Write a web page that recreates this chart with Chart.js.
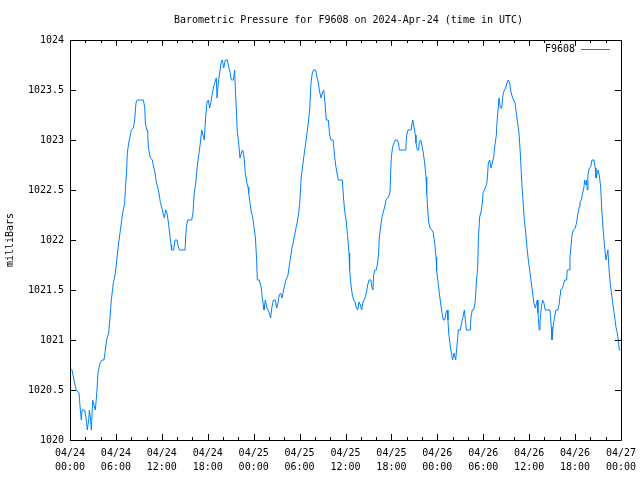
<!DOCTYPE html>
<html>
<head>
<meta charset="utf-8">
<script src="https://cdn.jsdelivr.net/npm/chart.js@4.4.1/dist/chart.umd.min.js"></script>
<style>
  html, body { margin: 0; padding: 0; background: #fff; }
  canvas { display: block; }
</style>
</head>
<body>
<canvas id="chart" width="640" height="480"></canvas>
<script>
// hours since 2024-04-24 00:00 UTC
const hours = [
  0.00, 0.26, 0.52, 0.83, 1.18, 1.35, 1.48, 1.58, 1.92, 2.13, 2.26, 2.44, 2.53, 2.70, 2.79, 2.96,
  3.14, 3.31, 3.48, 3.66, 3.92, 4.18, 4.44, 4.62, 4.79, 5.05, 5.23, 5.40, 5.66, 5.84, 6.05, 6.18,
  6.36, 6.53, 6.71, 6.88, 7.14, 7.23, 7.40, 7.49, 7.67, 7.84, 8.01, 8.27, 8.45, 8.62, 8.79, 9.58,
  9.76, 9.84, 10.02, 10.15, 10.23, 10.50, 10.76, 10.93, 11.11, 11.28, 11.46, 11.63, 11.80, 11.98,
  12.15, 12.33, 12.50, 12.67, 12.85, 13.02, 13.20, 13.28, 13.55, 13.72, 13.98, 14.16, 14.33, 15.03,
  15.20, 15.38, 15.90, 16.07, 16.24, 16.42, 16.55, 16.68, 16.86, 17.03, 17.21, 17.38, 17.55, 17.73,
  17.90, 18.08, 18.25, 18.42, 18.60, 18.77, 18.95, 19.12, 19.21, 19.38, 19.56, 19.73, 19.90, 20.08,
  20.30, 20.56, 20.73, 20.91, 21.08, 21.34, 21.52, 21.60, 21.78, 21.86, 22.04, 22.21, 22.38, 22.56,
  22.74, 22.91, 23.08, 23.26, 23.35, 23.52, 23.69, 23.87, 24.04, 24.22, 24.39, 24.48, 24.74, 24.83,
  25.00, 25.09, 25.26, 25.35, 25.52, 25.70, 25.87, 26.04, 26.22, 26.39, 26.57, 26.83, 27.01, 27.18,
  27.35, 27.53, 27.70, 27.87, 28.05, 28.22, 28.49, 28.66, 28.83, 29.01, 29.18, 29.36, 29.53, 29.70,
  29.88, 30.05, 30.22, 30.45, 30.62, 30.80, 30.97, 31.14, 31.32, 31.49, 31.66, 31.84, 32.10, 32.27,
  32.45, 32.62, 32.80, 32.97, 33.15, 33.32, 33.49, 33.75, 33.93, 34.10, 34.37, 34.54, 34.71, 34.89,
  35.06, 35.58, 35.76, 35.93, 36.11, 36.28, 36.46, 36.54, 36.72, 36.89, 37.07, 37.24, 37.41, 37.59,
  37.76, 37.94, 38.11, 38.29, 38.55, 38.72, 38.90, 39.07, 39.33, 39.42, 39.59, 39.68, 39.85, 40.03,
  40.20, 40.33, 40.42, 40.59, 40.77, 40.94, 41.12, 41.29, 41.64, 41.81, 41.90, 41.99, 42.16, 42.34,
  42.51, 42.77, 42.95, 43.03, 43.82, 43.90, 43.99, 44.17, 44.60, 44.69, 44.78, 44.95, 45.13, 45.21,
  45.39, 45.56, 45.65, 45.82, 46.00, 46.17, 46.34, 46.52, 46.61, 46.78, 46.87, 47.04, 47.30, 47.48,
  47.65, 47.83, 47.91, 48.09, 48.26, 48.43, 48.61, 48.78, 48.96, 49.13, 49.30, 49.39, 49.48, 49.65,
  49.83, 50.00, 50.18, 50.40, 50.48, 50.66, 50.74, 51.00, 51.18, 51.35, 51.53, 51.70, 51.79, 52.31,
  52.40, 52.57, 52.75, 52.92, 53.01, 53.09, 53.27, 53.36, 53.53, 53.71, 53.88, 53.97, 54.14, 54.32,
  54.49, 54.58, 54.66, 54.84, 55.01, 55.19, 55.36, 55.53, 55.71, 55.80, 55.97, 56.06, 56.23, 56.41,
  56.58, 56.75, 56.93, 57.10, 57.27, 57.45, 57.62, 57.80, 57.97, 58.15, 58.32, 58.49, 58.67, 58.84,
  59.02, 59.19, 59.37, 59.54, 59.71, 59.89, 60.06, 60.28, 60.45, 60.62, 60.80, 60.97, 61.06, 61.15,
  61.32, 61.41, 61.58, 61.76, 61.93, 62.10, 62.72, 62.89, 62.98, 63.07, 63.15, 63.33, 63.50, 63.76,
  63.94, 64.03, 64.11, 64.37, 64.46, 64.64, 64.90, 64.98, 65.25, 65.33, 65.51, 65.60, 65.77, 66.03,
  66.21, 66.38, 66.55, 66.64, 66.81, 66.99, 67.16, 67.25, 67.42, 67.51, 67.60, 67.68, 67.86, 68.04,
  68.21, 68.47, 68.64, 68.73, 68.90, 68.99, 69.16, 69.34, 69.51, 69.69, 69.86, 70.03, 70.12, 70.29,
  70.47, 70.65, 70.82, 70.99, 71.17, 71.34, 71.52, 71.69, 71.78, 71.95
];

// milliBars
const pressure = [
  1020.72, 1020.70, 1020.60, 1020.50, 1020.47, 1020.30, 1020.20, 1020.30, 1020.30, 1020.20, 1020.10, 1020.20, 1020.30, 1020.20, 1020.10, 1020.40,
  1020.35, 1020.30, 1020.45, 1020.67, 1020.77, 1020.80, 1020.80, 1020.90, 1021.00, 1021.07, 1021.23, 1021.40, 1021.57, 1021.63, 1021.75, 1021.85,
  1021.97, 1022.07, 1022.17, 1022.27, 1022.37, 1022.50, 1022.70, 1022.87, 1022.97, 1023.03, 1023.10, 1023.12, 1023.20, 1023.37, 1023.40, 1023.40,
  1023.33, 1023.18, 1023.10, 1023.10, 1022.93, 1022.82, 1022.80, 1022.73, 1022.67, 1022.58, 1022.53, 1022.47, 1022.38, 1022.33,
  1022.27, 1022.22, 1022.30, 1022.27, 1022.18, 1022.07, 1021.95, 1021.90, 1021.90, 1022.00, 1022.00, 1021.93, 1021.90, 1021.90,
  1022.13, 1022.20, 1022.20, 1022.27, 1022.47, 1022.57, 1022.67, 1022.77, 1022.87, 1022.97, 1023.10, 1023.05, 1023.00, 1023.23,
  1023.38, 1023.40, 1023.32, 1023.38, 1023.47, 1023.53, 1023.58, 1023.62, 1023.42, 1023.57, 1023.67, 1023.77, 1023.80, 1023.72,
  1023.80, 1023.80, 1023.73, 1023.68, 1023.60, 1023.60, 1023.70, 1023.52, 1023.23, 1023.08, 1022.97, 1022.82, 1022.87, 1022.90,
  1022.83, 1022.67, 1022.58, 1022.53, 1022.47, 1022.37, 1022.28, 1022.23, 1022.13, 1022.03, 1021.80, 1021.60, 1021.60, 1021.57,
  1021.52, 1021.45, 1021.35, 1021.30, 1021.40, 1021.33, 1021.30, 1021.27, 1021.22, 1021.33, 1021.40, 1021.40, 1021.32, 1021.37,
  1021.45, 1021.47, 1021.42, 1021.48, 1021.55, 1021.60, 1021.65, 1021.75, 1021.83, 1021.92, 1021.98, 1022.05, 1022.12, 1022.18,
  1022.27, 1022.40, 1022.63, 1022.77, 1022.87, 1022.97, 1023.07, 1023.17, 1023.30, 1023.57, 1023.67, 1023.70, 1023.70, 1023.63,
  1023.57, 1023.48, 1023.42, 1023.47, 1023.50, 1023.37, 1023.20, 1023.20, 1023.05, 1023.00, 1023.00, 1022.87, 1022.75, 1022.67,
  1022.60, 1022.60, 1022.40, 1022.27, 1022.18, 1022.03, 1021.87, 1021.70, 1021.55, 1021.45, 1021.40, 1021.38, 1021.33, 1021.30,
  1021.38, 1021.35, 1021.30, 1021.38, 1021.42, 1021.47, 1021.55, 1021.60, 1021.60, 1021.53, 1021.50, 1021.65, 1021.70, 1021.70,
  1021.77, 1021.87, 1022.03, 1022.13, 1022.23, 1022.28, 1022.33, 1022.40, 1022.43, 1022.48, 1022.67, 1022.83, 1022.93, 1022.97,
  1023.00, 1023.00, 1022.96, 1022.90, 1022.90, 1022.96, 1023.05, 1023.10, 1023.10, 1023.17, 1023.20, 1023.13, 1023.05, 1022.97,
  1022.90, 1022.90, 1022.98, 1023.00, 1022.94, 1022.87, 1022.77, 1022.63, 1022.47, 1022.27, 1022.18, 1022.12, 1022.10, 1022.07,
  1021.97, 1021.83, 1021.70, 1021.58, 1021.47, 1021.37, 1021.27, 1021.20, 1021.20, 1021.27, 1021.30, 1021.20, 1021.07, 1020.97,
  1020.87, 1020.80, 1020.87, 1020.80, 1020.87, 1021.02, 1021.10, 1021.10, 1021.17, 1021.23, 1021.30, 1021.17, 1021.10, 1021.10,
  1021.23, 1021.30, 1021.30, 1021.37, 1021.45, 1021.57, 1021.72, 1022.00, 1022.23, 1022.28, 1022.37, 1022.47, 1022.50, 1022.53,
  1022.58, 1022.67, 1022.77, 1022.80, 1022.72, 1022.77, 1022.83, 1022.95, 1023.05, 1023.18, 1023.33, 1023.42, 1023.32, 1023.32,
  1023.45, 1023.50, 1023.52, 1023.57, 1023.60, 1023.57, 1023.48, 1023.43, 1023.40, 1023.37, 1023.27, 1023.17, 1023.07, 1022.87,
  1022.60, 1022.40, 1022.20, 1022.08, 1021.93, 1021.80, 1021.70, 1021.57, 1021.47, 1021.37, 1021.32, 1021.37, 1021.40, 1021.27,
  1021.10, 1021.17, 1021.32, 1021.40, 1021.37, 1021.30, 1021.30, 1021.13, 1021.00, 1021.07, 1021.15, 1021.23, 1021.30, 1021.30,
  1021.37, 1021.45, 1021.50, 1021.52, 1021.55, 1021.60, 1021.60, 1021.70, 1021.70, 1021.83, 1021.97, 1022.05, 1022.10, 1022.12,
  1022.18, 1022.27, 1022.33, 1022.38, 1022.40, 1022.47, 1022.53, 1022.60, 1022.55, 1022.60, 1022.50, 1022.65, 1022.72, 1022.73,
  1022.80, 1022.80, 1022.72, 1022.62, 1022.67, 1022.70, 1022.65, 1022.53, 1022.27, 1022.08, 1021.93, 1021.80, 1021.83, 1021.90,
  1021.67, 1021.53, 1021.43, 1021.33, 1021.23, 1021.13, 1021.07, 1020.97, 1020.90, 1020.90
];

// labels under the x axis, one per 6 hours
const tickDates = ['04/24', '04/24', '04/24', '04/24', '04/25', '04/25', '04/25', '04/25', '04/26', '04/26', '04/26', '04/26', '04/27'];
const tickTimes = ['00:00', '06:00', '12:00', '18:00', '00:00', '06:00', '12:00', '18:00', '00:00', '06:00', '12:00', '18:00', '00:00'];

const titleText = 'Barometric Pressure for F9608 on 2024-Apr-24 (time in UTC)';
const lineColor = '#0080ff';
const mono = '"DejaVu Sans Mono", "Liberation Mono", monospace';

Chart.defaults.font.family = mono;
Chart.defaults.font.size = 10;
Chart.defaults.color = '#000';

// gnuplot style frame: box, inward ticks, title and key
const gnuFrame = {
  id: 'gnuFrame',
  afterDraw(chart) {
    const ctx = chart.ctx;
    const a = chart.chartArea;
    const x = chart.scales.x;
    const y = chart.scales.y;
    ctx.save();
    ctx.strokeStyle = '#000';
    ctx.lineWidth = 1;
    ctx.beginPath();
    ctx.rect(Math.round(a.left) + 0.5, Math.round(a.top) + 0.5,
             Math.round(a.right - a.left), Math.round(a.bottom - a.top));
    for (let h = 0; h <= 72; h += 2) {
      const px = Math.round(x.getPixelForValue(h)) + 0.5;
      const len = h % 6 === 0 ? 6 : 3;
      ctx.moveTo(px, a.bottom);
      ctx.lineTo(px, a.bottom - len);
      ctx.moveTo(px, a.top);
      ctx.lineTo(px, a.top + len);
    }
    for (let v = 1020; v <= 1024; v += 0.5) {
      const py = Math.round(y.getPixelForValue(v)) + 0.5;
      ctx.moveTo(a.left, py);
      ctx.lineTo(a.left + 6, py);
      ctx.moveTo(a.right, py);
      ctx.lineTo(a.right - 6, py);
    }
    ctx.stroke();

    ctx.fillStyle = '#000';
    ctx.font = '10px ' + mono;
    ctx.textBaseline = 'middle';
    ctx.textAlign = 'center';
    ctx.fillText(titleText, (a.left + a.right) / 2 + 3, 20);

    const ds = chart.data.datasets[0];
    ctx.textAlign = 'right';
    ctx.fillText(ds.label, 575, 49);
    ctx.strokeStyle = ds.borderColor;
    ctx.beginPath();
    ctx.moveTo(581, 49.5);
    ctx.lineTo(610, 49.5);
    ctx.stroke();
    ctx.restore();
  }
};

new Chart(document.getElementById('chart'), {
  type: 'line',
  data: {
    datasets: [{
      label: 'F9608',
      data: hours.map((h, i) => ({ x: h, y: pressure[i] })),
      borderColor: lineColor,
      borderWidth: 1,
      pointRadius: 0,
      tension: 0,
      fill: false
    }]
  },
  options: {
    responsive: false,
    animation: false,
    devicePixelRatio: 1,
    layout: { padding: { top: 40, right: 19, left: 0, bottom: 0 } },
    plugins: {
      legend: { display: false },
      title: { display: false },
      tooltip: { enabled: false }
    },
    scales: {
      x: {
        type: 'linear',
        min: 0,
        max: 72,
        grid: { display: false, drawTicks: false },
        border: { display: false },
        ticks: {
          stepSize: 6,
          autoSkip: false,
          maxRotation: 0,
          padding: 6,
          font: { size: 10, lineHeight: 1.4 },
          callback: (v) => [tickDates[v / 6], tickTimes[v / 6]]
        },
        afterFit: (scale) => {
          scale.height = 40;
          scale.paddingLeft = 0;
          scale.paddingRight = 0;
        }
      },
      y: {
        min: 1020,
        max: 1024,
        grid: { display: false, drawTicks: false },
        border: { display: false },
        ticks: {
          stepSize: 0.5,
          padding: 6,
          callback: (v) => String(v)
        },
        title: {
          display: true,
          text: 'milliBars',
          padding: { top: 4, bottom: 0 },
          font: { size: 10 }
        },
        afterFit: (scale) => { scale.width = 70; }
      }
    }
  },
  plugins: [gnuFrame]
});
</script>
</body>
</html>
